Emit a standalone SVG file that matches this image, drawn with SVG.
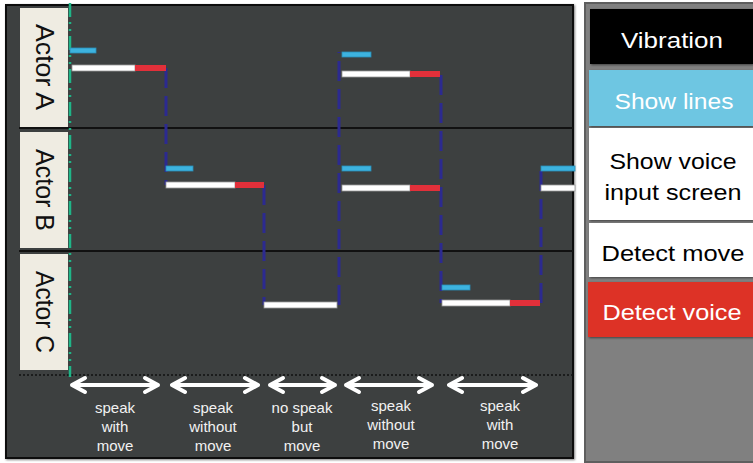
<svg xmlns="http://www.w3.org/2000/svg" width="753" height="463" viewBox="0 0 753 463">
  <style>
    .actor-box { fill: #efece2; }
    .actor-text { font-family: "Liberation Sans", Arial, sans-serif; font-size: 25px; fill: #111; text-anchor: middle; }
    .sep { stroke: #111; stroke-width: 2; }
    .lane { stroke: #2c2a90; stroke-width: 3; stroke-dasharray: 20 8; fill: none; }
    .lines { fill: #3db3df; stroke: #2a8fb8; stroke-width: 0.8; }
    .screen { fill: #ffffff; stroke: #9a9a9a; stroke-width: 0.8; }
    .voice { fill: #e2303a; }
    .arrow { stroke: #ffffff; stroke-width: 4; fill: none; stroke-linecap: round; stroke-linejoin: round; }
    .phase { font-family: "Liberation Sans", Arial, sans-serif; font-size: 15px; fill: #f2f2f2; text-anchor: middle; }
    .legend-text { font-family: "Liberation Sans", Arial, sans-serif; font-size: 22px; text-anchor: middle; }
  </style>
  <defs>
    <filter id="shadow" x="-5%" y="-5%" width="110%" height="110%">
      <feDropShadow dx="1" dy="1" stdDeviation="1" flood-color="#000" flood-opacity="0.5"/>
    </filter>
  </defs>

  <rect width="753" height="463" fill="#ffffff"/>

  <!-- timeline panel -->
  <g id="timeline-panel">
    <rect x="6" y="5" width="567" height="453" fill="#3e3f3f" stroke="#111" stroke-width="2" filter="url(#shadow)"/>
    <line class="sep" x1="19" y1="128" x2="573" y2="128"/>
    <line class="sep" x1="19" y1="251" x2="573" y2="251"/>
    <line x1="19" y1="375" x2="573" y2="375" stroke="#111" stroke-width="1.5" stroke-dasharray="2 2"/>
  </g>

  <g id="actor-a">
    <rect class="actor-box" x="20" y="8" width="48" height="119"/>
    <text class="actor-text" transform="translate(36 67) rotate(90)" textLength="86" lengthAdjust="spacingAndGlyphs">Actor A</text>
  </g>
  <g id="actor-b">
    <rect class="actor-box" x="20" y="132" width="48" height="116"/>
    <text class="actor-text" transform="translate(36 190) rotate(90)" textLength="82" lengthAdjust="spacingAndGlyphs">Actor B</text>
  </g>
  <g id="actor-c">
    <rect class="actor-box" x="20" y="254" width="48" height="116"/>
    <text class="actor-text" transform="translate(36 312) rotate(90)" textLength="82" lengthAdjust="spacingAndGlyphs">Actor C</text>
  </g>

  <!-- start marker -->
  <line x1="70" y1="3" x2="70" y2="377" stroke="#1fb587" stroke-width="2.5" stroke-dasharray="14 5 2 5 2 5"/>

  <!-- turn handovers -->
  <g id="connectors">
    <line class="lane" x1="166" y1="68" x2="166" y2="185"/>
    <line class="lane" x1="264" y1="185" x2="264" y2="305"/>
    <line class="lane" x1="339" y1="305" x2="339" y2="52"/>
    <line class="lane" x1="441" y1="75" x2="441" y2="303"/>
    <line class="lane" x1="541" y1="303" x2="541" y2="166"/>
  </g>

  <!-- turn 1: actor A -->
  <g id="turn-a1">
    <rect class="lines" x="70" y="48" width="26" height="5"/>
    <rect class="screen" x="72" y="65" width="63" height="6"/>
    <rect class="voice" x="135" y="65" width="31" height="6"/>
  </g>
  <!-- turn 2: actor B -->
  <g id="turn-b1">
    <rect class="lines" x="166" y="166" width="27" height="5"/>
    <rect class="screen" x="166" y="182" width="69" height="6"/>
    <rect class="voice" x="235" y="182" width="29" height="6"/>
  </g>
  <!-- turn 3: actor C -->
  <g id="turn-c1">
    <rect class="screen" x="264" y="302" width="73" height="6"/>
  </g>
  <!-- turn 4: actors A and B -->
  <g id="turn-a2">
    <rect class="lines" x="342" y="52" width="29" height="5"/>
    <rect class="screen" x="342" y="71" width="68" height="6"/>
    <rect class="voice" x="410" y="71" width="30" height="6"/>
  </g>
  <g id="turn-b2">
    <rect class="lines" x="342" y="166" width="29" height="5"/>
    <rect class="screen" x="342" y="185" width="68" height="6"/>
    <rect class="voice" x="410" y="185" width="30" height="6"/>
  </g>
  <!-- turn 5: actor C -->
  <g id="turn-c2">
    <rect class="lines" x="442" y="285" width="28" height="5"/>
    <rect class="screen" x="442" y="300" width="68" height="6"/>
    <rect class="voice" x="510" y="300" width="30" height="6"/>
  </g>
  <!-- turn 6: actor B -->
  <g id="turn-b3">
    <rect class="lines" x="541" y="166" width="34" height="5"/>
    <rect class="screen" x="541" y="185" width="34" height="6"/>
  </g>

  <!-- phase spans -->
  <g id="phase-arrows">
    <path class="arrow" d="M72 385 H158 M85 378 L72 385 L85 392 M145 378 L158 385 L145 392"/>
    <path class="arrow" d="M172 385 H258 M185 378 L172 385 L185 392 M245 378 L258 385 L245 392"/>
    <path class="arrow" d="M270 385 H335 M283 378 L270 385 L283 392 M322 378 L335 385 L322 392"/>
    <path class="arrow" d="M346 385 H432 M359 378 L346 385 L359 392 M419 378 L432 385 L419 392"/>
    <path class="arrow" d="M449 385 H536 M462 378 L449 385 L462 392 M523 378 L536 385 L523 392"/>
  </g>
  <g id="phase-labels">
    <text class="phase" x="115" y="413">speak</text>
    <text class="phase" x="115" y="432">with</text>
    <text class="phase" x="115" y="451">move</text>
    <text class="phase" x="213" y="413">speak</text>
    <text class="phase" x="213" y="432">without</text>
    <text class="phase" x="213" y="451">move</text>
    <text class="phase" x="302" y="413">no speak</text>
    <text class="phase" x="302" y="432">but</text>
    <text class="phase" x="302" y="451">move</text>
    <text class="phase" x="391" y="411">speak</text>
    <text class="phase" x="391" y="430">without</text>
    <text class="phase" x="391" y="449">move</text>
    <text class="phase" x="500" y="411">speak</text>
    <text class="phase" x="500" y="430">with</text>
    <text class="phase" x="500" y="449">move</text>
  </g>

  <!-- legend -->
  <g id="legend-panel">
    <rect x="585" y="3" width="170" height="459" fill="#808080" stroke="#5e5e5e" stroke-width="2"/>
  </g>
  <g id="legend-vibration">
    <rect x="590" y="9" width="163" height="55" fill="#000000" filter="url(#shadow)"/>
    <text class="legend-text" x="672" y="48" fill="#ffffff" textLength="102" lengthAdjust="spacingAndGlyphs">Vibration</text>
  </g>
  <g id="legend-show-lines">
    <rect x="589" y="70" width="164" height="56" fill="#6ec6e2" filter="url(#shadow)"/>
    <text class="legend-text" x="674" y="109" fill="#ffffff" textLength="119" lengthAdjust="spacingAndGlyphs">Show lines</text>
  </g>
  <g id="legend-voice-screen">
    <rect x="589" y="128" width="164" height="92" fill="#ffffff" filter="url(#shadow)"/>
    <text class="legend-text" x="673" y="169" fill="#000000" textLength="127" lengthAdjust="spacingAndGlyphs">Show voice</text>
    <text class="legend-text" x="673" y="200" fill="#000000" textLength="137" lengthAdjust="spacingAndGlyphs">input screen</text>
  </g>
  <g id="legend-detect-move">
    <rect x="589" y="223" width="164" height="54" fill="#ffffff" filter="url(#shadow)"/>
    <text class="legend-text" x="673" y="261" fill="#000000" textLength="143" lengthAdjust="spacingAndGlyphs">Detect move</text>
  </g>
  <g id="legend-detect-voice">
    <rect x="588" y="282" width="165" height="55" fill="#dd3127" filter="url(#shadow)"/>
    <text class="legend-text" x="672" y="320" fill="#ffffff" textLength="139" lengthAdjust="spacingAndGlyphs">Detect voice</text>
  </g>
</svg>
